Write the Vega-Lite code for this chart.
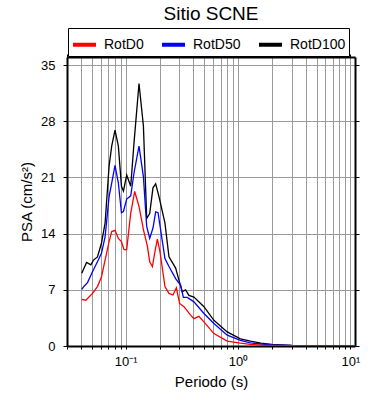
{
  "$schema": "https://vega.github.io/schema/vega-lite/v6.json",
  "width": 288,
  "height": 289,
  "autosize": "none",
  "padding": {"left": 67, "top": 57, "right": 35, "bottom": 54},
  "background": "white",
  "title": {"text": "Sitio SCNE", "fontSize": 19, "font": "Liberation Sans", "fontWeight": "normal", "color": "black", "anchor": "middle", "baseline": "alphabetic", "frame": "group", "offset": -11},
  "config": {
    "font": "Liberation Sans",
    "view": {"stroke": null},
    "axis": {"labelFont": "Liberation Sans", "titleFont": "Liberation Sans", "labelColor": "black", "titleColor": "black", "titleFontWeight": "normal", "domainColor": "black", "domainWidth": 2, "tickColor": "black", "tickWidth": 1, "gridColor": "#9a9a9a", "gridWidth": 1, "gridOpacity": 1}
  },
  "data": {"values": [
    {"s": "RotD100", "T": 0.0406, "v": 9.05},
    {"s": "RotD100", "T": 0.0448, "v": 10.4},
    {"s": "RotD100", "T": 0.0489, "v": 10.1},
    {"s": "RotD100", "T": 0.0516, "v": 10.7},
    {"s": "RotD100", "T": 0.056, "v": 11.1},
    {"s": "RotD100", "T": 0.0608, "v": 12.8},
    {"s": "RotD100", "T": 0.0655, "v": 15.3},
    {"s": "RotD100", "T": 0.0711, "v": 22.4},
    {"s": "RotD100", "T": 0.075, "v": 24.9},
    {"s": "RotD100", "T": 0.0803, "v": 26.9},
    {"s": "RotD100", "T": 0.086, "v": 24.9},
    {"s": "RotD100", "T": 0.0916, "v": 19.9},
    {"s": "RotD100", "T": 0.0954, "v": 19.3},
    {"s": "RotD100", "T": 0.102, "v": 21.3},
    {"s": "RotD100", "T": 0.1108, "v": 19.9},
    {"s": "RotD100", "T": 0.1185, "v": 25.3},
    {"s": "RotD100", "T": 0.1313, "v": 32.7},
    {"s": "RotD100", "T": 0.1437, "v": 27.4},
    {"s": "RotD100", "T": 0.1537, "v": 15.9},
    {"s": "RotD100", "T": 0.1635, "v": 16.5},
    {"s": "RotD100", "T": 0.1748, "v": 19.7},
    {"s": "RotD100", "T": 0.1848, "v": 20.2},
    {"s": "RotD100", "T": 0.1978, "v": 18.6},
    {"s": "RotD100", "T": 0.2235, "v": 15.3},
    {"s": "RotD100", "T": 0.2427, "v": 11.1},
    {"s": "RotD100", "T": 0.2783, "v": 9.7},
    {"s": "RotD100", "T": 0.2977, "v": 8.2},
    {"s": "RotD100", "T": 0.319, "v": 6.75},
    {"s": "RotD100", "T": 0.341, "v": 7.0},
    {"s": "RotD100", "T": 0.3655, "v": 6.3},
    {"s": "RotD100", "T": 0.405, "v": 6.1},
    {"s": "RotD100", "T": 0.497, "v": 4.9},
    {"s": "RotD100", "T": 0.61, "v": 3.2},
    {"s": "RotD100", "T": 0.801, "v": 1.75},
    {"s": "RotD100", "T": 1.05, "v": 0.9},
    {"s": "RotD100", "T": 1.29, "v": 0.6},
    {"s": "RotD100", "T": 1.6, "v": 0.35},
    {"s": "RotD100", "T": 2.0, "v": 0.2},
    {"s": "RotD100", "T": 3.0, "v": 0.08},
    {"s": "RotD100", "T": 5.0, "v": 0.03},
    {"s": "RotD100", "T": 11.0, "v": 0.01},
    {"s": "RotD50", "T": 0.0406, "v": 7.05},
    {"s": "RotD50", "T": 0.0426, "v": 7.45},
    {"s": "RotD50", "T": 0.0457, "v": 7.9},
    {"s": "RotD50", "T": 0.0506, "v": 9.25},
    {"s": "RotD50", "T": 0.056, "v": 10.5},
    {"s": "RotD50", "T": 0.0608, "v": 11.55},
    {"s": "RotD50", "T": 0.0655, "v": 13.6},
    {"s": "RotD50", "T": 0.0711, "v": 18.6},
    {"s": "RotD50", "T": 0.075, "v": 20.3},
    {"s": "RotD50", "T": 0.0803, "v": 22.5},
    {"s": "RotD50", "T": 0.086, "v": 20.3},
    {"s": "RotD50", "T": 0.0916, "v": 16.6},
    {"s": "RotD50", "T": 0.0954, "v": 16.75},
    {"s": "RotD50", "T": 0.102, "v": 18.3},
    {"s": "RotD50", "T": 0.1108, "v": 18.7},
    {"s": "RotD50", "T": 0.1185, "v": 21.55},
    {"s": "RotD50", "T": 0.1313, "v": 24.9},
    {"s": "RotD50", "T": 0.1437, "v": 21.1},
    {"s": "RotD50", "T": 0.1537, "v": 14.9},
    {"s": "RotD50", "T": 0.1635, "v": 13.4},
    {"s": "RotD50", "T": 0.1748, "v": 14.7},
    {"s": "RotD50", "T": 0.1848, "v": 16.7},
    {"s": "RotD50", "T": 0.194, "v": 16.6},
    {"s": "RotD50", "T": 0.2235, "v": 10.9},
    {"s": "RotD50", "T": 0.2427, "v": 9.9},
    {"s": "RotD50", "T": 0.2783, "v": 8.4},
    {"s": "RotD50", "T": 0.308, "v": 7.6},
    {"s": "RotD50", "T": 0.326, "v": 6.05},
    {"s": "RotD50", "T": 0.3535, "v": 6.05},
    {"s": "RotD50", "T": 0.405, "v": 5.5},
    {"s": "RotD50", "T": 0.497, "v": 4.05},
    {"s": "RotD50", "T": 0.61, "v": 2.8},
    {"s": "RotD50", "T": 0.801, "v": 1.35},
    {"s": "RotD50", "T": 1.05, "v": 0.7},
    {"s": "RotD50", "T": 1.29, "v": 0.4},
    {"s": "RotD50", "T": 1.6, "v": 0.25},
    {"s": "RotD50", "T": 2.0, "v": 0.15},
    {"s": "RotD50", "T": 3.0, "v": 0.06},
    {"s": "RotD50", "T": 5.0, "v": 0.02},
    {"s": "RotD50", "T": 11.0, "v": 0.01},
    {"s": "RotD0", "T": 0.0406, "v": 5.8},
    {"s": "RotD0", "T": 0.0441, "v": 5.7},
    {"s": "RotD0", "T": 0.0506, "v": 6.55},
    {"s": "RotD0", "T": 0.056, "v": 7.4},
    {"s": "RotD0", "T": 0.0608, "v": 8.6},
    {"s": "RotD0", "T": 0.0655, "v": 10.7},
    {"s": "RotD0", "T": 0.0711, "v": 13.0},
    {"s": "RotD0", "T": 0.075, "v": 14.25},
    {"s": "RotD0", "T": 0.0803, "v": 14.4},
    {"s": "RotD0", "T": 0.086, "v": 13.4},
    {"s": "RotD0", "T": 0.0916, "v": 13.0},
    {"s": "RotD0", "T": 0.0966, "v": 12.0},
    {"s": "RotD0", "T": 0.102, "v": 12.0},
    {"s": "RotD0", "T": 0.1108, "v": 16.55},
    {"s": "RotD0", "T": 0.1202, "v": 19.25},
    {"s": "RotD0", "T": 0.1313, "v": 17.4},
    {"s": "RotD0", "T": 0.1437, "v": 14.5},
    {"s": "RotD0", "T": 0.156, "v": 12.4},
    {"s": "RotD0", "T": 0.1635, "v": 10.5},
    {"s": "RotD0", "T": 0.1727, "v": 9.9},
    {"s": "RotD0", "T": 0.182, "v": 11.75},
    {"s": "RotD0", "T": 0.1913, "v": 13.3},
    {"s": "RotD0", "T": 0.2018, "v": 11.75},
    {"s": "RotD0", "T": 0.2235, "v": 7.4},
    {"s": "RotD0", "T": 0.2427, "v": 6.55},
    {"s": "RotD0", "T": 0.2633, "v": 6.35},
    {"s": "RotD0", "T": 0.2823, "v": 7.25},
    {"s": "RotD0", "T": 0.302, "v": 5.3},
    {"s": "RotD0", "T": 0.33, "v": 4.9},
    {"s": "RotD0", "T": 0.378, "v": 3.85},
    {"s": "RotD0", "T": 0.405, "v": 3.4},
    {"s": "RotD0", "T": 0.448, "v": 3.7},
    {"s": "RotD0", "T": 0.497, "v": 3.0},
    {"s": "RotD0", "T": 0.61, "v": 1.55},
    {"s": "RotD0", "T": 0.801, "v": 0.6},
    {"s": "RotD0", "T": 1.05, "v": 0.35},
    {"s": "RotD0", "T": 1.29, "v": 0.2},
    {"s": "RotD0", "T": 1.6, "v": 0.12},
    {"s": "RotD0", "T": 2.0, "v": 0.07},
    {"s": "RotD0", "T": 3.0, "v": 0.03},
    {"s": "RotD0", "T": 5.0, "v": 0.01},
    {"s": "RotD0", "T": 11.0, "v": 0.005}
  ]},
  "layer": [
    {
      "mark": {"type": "line", "strokeWidth": 1.3, "clip": true},
      "encoding": {
        "x": {"field": "T", "type": "quantitative",
          "scale": {"type": "log", "domain": [0.03, 11], "nice": false},
          "axis": {"orient": "bottom", "title": "Periodo (s)", "titleFontSize": 15, "titlePadding": 6,
            "values": [0.03, 0.04, 0.05, 0.06, 0.07, 0.08, 0.09, 0.1, 0.2, 0.3, 0.4, 0.5, 0.6, 0.7, 0.8, 0.9, 1, 2, 3, 4, 5, 6, 7, 8, 9, 10],
            "labelExpr": "datum.value == 0.1 ? '10⁻¹' : datum.value == 1 ? '10⁰' : datum.value == 10 ? '10¹' : ''",
            "labelFontSize": 13, "labelOverlap": false, "labelFlush": false, "labelPadding": 6, "tickSize": 3, "grid": true}},
        "y": {"field": "v", "type": "quantitative",
          "scale": {"domain": [0, 36], "nice": false},
          "axis": {"orient": "left", "title": "PSA (cm/s²)", "titleFontSize": 15, "titlePadding": 6,
            "values": [0, 7, 14, 21, 28, 35], "labelFontSize": 13, "labelPadding": 8, "tickSize": 4, "grid": true}},
        "color": {"field": "s", "type": "nominal",
          "scale": {"domain": ["RotD0", "RotD50", "RotD100"], "range": ["#ff0000", "#0000ff", "#000000"]},
          "legend": {"title": null, "orient": "none", "legendX": 1, "legendY": -29, "direction": "horizontal", "columns": 3,
            "symbolType": "stroke", "symbolSize": 529, "symbolStrokeWidth": 4, "labelFontSize": 14, "labelFont": "Liberation Sans", "labelColor": "black", "labelOffset": 6,
            "columnPadding": 10, "padding": 3, "strokeColor": "black", "fillColor": "white"}},
        "order": {"field": "T", "type": "quantitative"}
      }
    },
    {
      "mark": {"type": "line", "opacity": 0},
      "encoding": {
        "x": {"field": "T", "type": "quantitative",
          "axis": {"orient": "top", "title": null, "labels": false, "grid": false, "tickSize": 3,
            "values": [0.03, 0.04, 0.05, 0.06, 0.07, 0.08, 0.09, 0.1, 0.2, 0.3, 0.4, 0.5, 0.6, 0.7, 0.8, 0.9, 1, 2, 3, 4, 5, 6, 7, 8, 9, 10]}},
        "y": {"field": "v", "type": "quantitative",
          "axis": {"orient": "right", "title": null, "labels": false, "grid": false, "tickSize": 4, "values": [0, 7, 14, 21, 28, 35]}},
        "detail": {"field": "s"}
      }
    }
  ],
  "resolve": {"axis": {"x": "independent", "y": "independent"}}
}
